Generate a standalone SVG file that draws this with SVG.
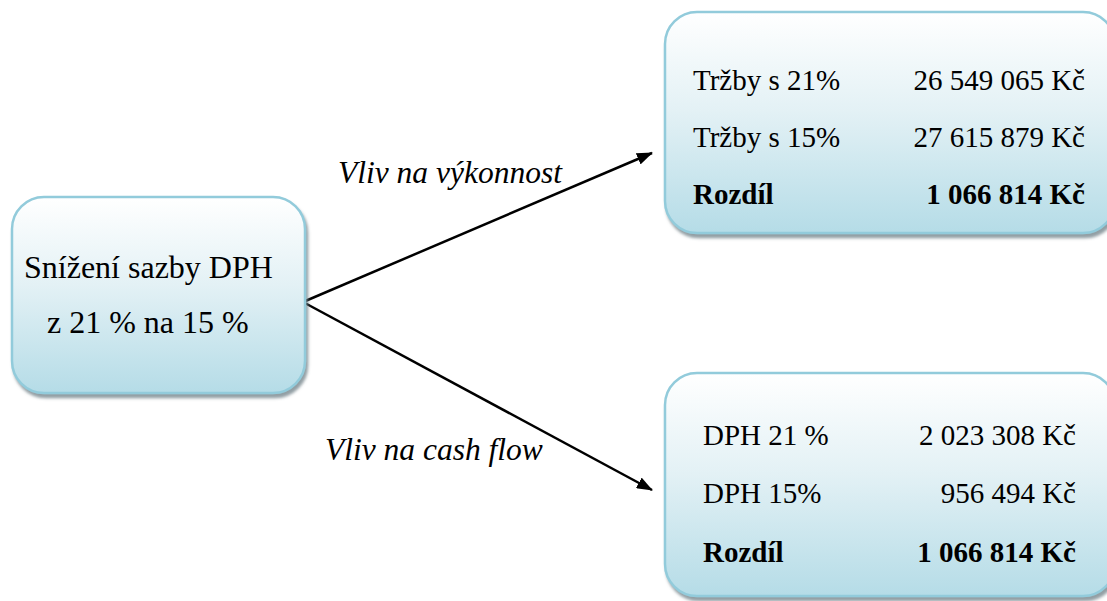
<svg xmlns="http://www.w3.org/2000/svg" width="1107" height="601" viewBox="0 0 1107 601" font-family="'Liberation Serif', 'Times New Roman', serif">
<defs>
<linearGradient id="g" x1="0" y1="0" x2="0" y2="1">
<stop offset="0" stop-color="#ffffff"/>
<stop offset="0.45" stop-color="#e3f1f5"/>
<stop offset="1" stop-color="#b5dce7"/>
</linearGradient>
<filter id="sh" x="-10%" y="-10%" width="120%" height="125%">
<feGaussianBlur in="SourceAlpha" stdDeviation="1.5"/>
<feOffset dx="2" dy="4" result="b"/>
<feFlood flood-color="#6e7f86" flood-opacity="0.75"/>
<feComposite in2="b" operator="in"/>
<feMerge><feMergeNode/><feMergeNode in="SourceGraphic"/></feMerge>
</filter>
<marker id="ah" markerWidth="16" markerHeight="12" refX="15" refY="6" orient="auto" markerUnits="userSpaceOnUse">
<path d="M0,0 L16,6 L0,12 Z" fill="#000"/>
</marker>
</defs>
<style>
.box{fill:url(#g);stroke:#92cbdb;stroke-width:2.5;filter:url(#sh)}
.t{font-size:29px;fill:#000}
.tb{font-size:29px;font-weight:bold;fill:#000}
.big{font-size:32px;fill:#000}
.lbl{font-size:31.5px;font-style:italic;fill:#000}
.r{text-anchor:end}
.conn{stroke:#000;stroke-width:2.5;fill:none;marker-end:url(#ah)}
</style>
<g id="connectors">
<line class="conn" x1="303" y1="302" x2="652" y2="153"/>
<line class="conn" x1="303" y1="302" x2="652" y2="490"/>
<text class="lbl" x="338" y="183">Vliv na výkonnost</text>
<text class="lbl" x="325" y="460">Vliv na cash flow</text>
</g>
<g id="source">
<rect class="box" x="12" y="197" width="293" height="196" rx="32" ry="32"/>
<text class="big" x="24" y="278">Snížení sazby DPH</text>
<text class="big" x="47" y="333">z 21 % na 15 %</text>
</g>
<g id="performance">
<rect class="box" x="665" y="12" width="450" height="221" rx="32" ry="32"/>
<text class="t" x="693" y="90">Tržby s 21%</text>
<text class="t r" x="1085" y="90">26 549 065 Kč</text>
<text class="t" x="693" y="147">Tržby s 15%</text>
<text class="t r" x="1085" y="147">27 615 879 Kč</text>
<text class="tb" x="693" y="204">Rozdíl</text>
<text class="tb r" x="1085" y="204">1 066 814 Kč</text>
</g>
<g id="cashflow">
<rect class="box" x="665" y="373" width="450" height="223" rx="32" ry="32"/>
<text class="t" x="703" y="445">DPH 21 %</text>
<text class="t r" x="1076" y="445">2 023 308 Kč</text>
<text class="t" x="703" y="503">DPH 15%</text>
<text class="t r" x="1076" y="503">956 494 Kč</text>
<text class="tb" x="703" y="562">Rozdíl</text>
<text class="tb r" x="1076" y="562">1 066 814 Kč</text>
</g>
</svg>
